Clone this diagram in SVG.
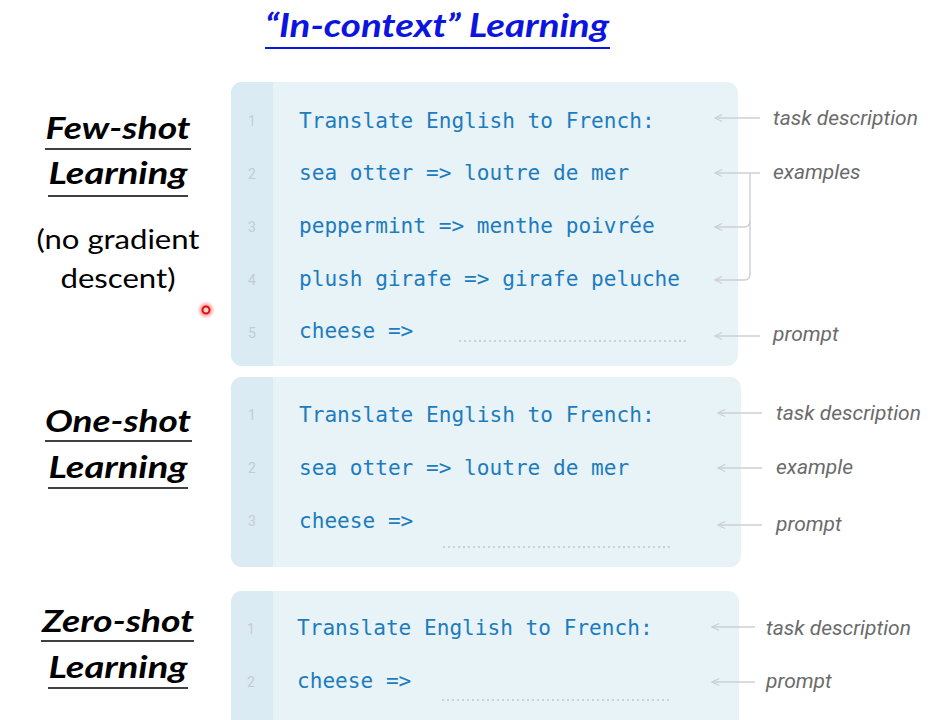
<svg xmlns="http://www.w3.org/2000/svg" width="930" height="720" viewBox="0 0 930 720">
  <defs>
    <style>
      .panel { fill: #e8f3f7; }
      .gutter { fill: #dbebf3; }
      .code { font-family: "DejaVu Sans Mono", "Liberation Mono", monospace; font-size: 21.1px; fill: #1c7cbe; }
      .num { font-family: Roboto, "Liberation Sans", sans-serif; font-size: 14px; fill: #c3ccd1; text-anchor: middle; }
      .dots { stroke: #c9d2d6; stroke-width: 2; stroke-dasharray: 2 3; fill: none; }
      .conn { stroke: #cbd0d3; stroke-width: 1.4; fill: none; }
      .lbl { font-family: Roboto, "Liberation Sans", sans-serif; font-style: italic; font-size: 21px; fill: #6b6b6b; }
      .head { font-family: Lato, "Open Sans", sans-serif; font-weight: bold; font-style: italic; font-size: 31px; fill: #000; text-anchor: middle; }
      .sub { font-family: Lato, "Open Sans", sans-serif; font-size: 26px; fill: #000; text-anchor: middle; }
      .rule { stroke: #000; stroke-width: 1.6; }
      .title { font-family: Lato, "Open Sans", sans-serif; font-weight: bold; font-style: italic; font-size: 32px; fill: #0c14e0; }
    </style>
    <marker id="arr" viewBox="0 0 10 10" refX="9" refY="5" markerWidth="9" markerHeight="9" markerUnits="userSpaceOnUse" orient="auto">
      <path d="M1,1 L9,5 L1,9" fill="none" stroke="#cbd0d3" stroke-width="1.3"/>
    </marker>
    <radialGradient id="glow">
      <stop offset="0" stop-color="#ff2020" stop-opacity="0.8"/>
      <stop offset="1" stop-color="#ff2020" stop-opacity="0"/>
    </radialGradient>
  </defs>

  <rect width="930" height="720" fill="#ffffff"/>

  <!-- heading -->
  <g id="title">
    <text class="title" x="265" y="37" textLength="344" lengthAdjust="spacingAndGlyphs">“In-context” Learning</text>
    <line x1="265" y1="48" x2="610" y2="48" stroke="#0c14e0" stroke-width="2"/>
  </g>

  <!-- left-hand captions -->
  <g id="few-shot-label">
    <text class="head" x="118" y="139" textLength="145" lengthAdjust="spacingAndGlyphs">Few-shot</text>
    <line class="rule" x1="45" y1="149" x2="191" y2="149"/>
    <text class="head" x="118" y="184" textLength="139" lengthAdjust="spacingAndGlyphs">Learning</text>
    <line class="rule" x1="48" y1="196" x2="188" y2="196"/>
    <text class="sub" x="118" y="249" textLength="163" lengthAdjust="spacingAndGlyphs">(no gradient</text>
    <text class="sub" x="118" y="288" textLength="115" lengthAdjust="spacingAndGlyphs">descent)</text>
  </g>
  <g id="one-shot-label">
    <text class="head" x="118" y="432" textLength="146" lengthAdjust="spacingAndGlyphs">One-shot</text>
    <line class="rule" x1="45" y1="441" x2="192" y2="441"/>
    <text class="head" x="118" y="478" textLength="139" lengthAdjust="spacingAndGlyphs">Learning</text>
    <line class="rule" x1="48" y1="488" x2="188" y2="488"/>
  </g>
  <g id="zero-shot-label">
    <text class="head" x="118" y="632" textLength="152" lengthAdjust="spacingAndGlyphs">Zero-shot</text>
    <line class="rule" x1="41" y1="641" x2="194" y2="641"/>
    <text class="head" x="118" y="678" textLength="139" lengthAdjust="spacingAndGlyphs">Learning</text>
    <line class="rule" x1="48" y1="688" x2="188" y2="688"/>
  </g>

  <!-- pointer dot -->
  <g id="pointer">
    <circle cx="206" cy="310" r="9" fill="url(#glow)"/>
    <circle cx="206" cy="310" r="3.5" fill="#ffd0d0" stroke="#e01010" stroke-width="2"/>
  </g>

  <!-- few-shot prompt panel -->
  <g id="few-shot-panel">
    <rect class="panel" x="231" y="82" width="507" height="284" rx="11"/>
    <path class="gutter" d="M242,82 H273 V366 H242 A11,11 0 0 1 231,355 V93 A11,11 0 0 1 242,82 Z"/>
    <text class="num" x="252" y="126">1</text>
    <text class="num" x="252" y="179">2</text>
    <text class="num" x="252" y="232">3</text>
    <text class="num" x="252" y="285">4</text>
    <text class="num" x="252" y="338">5</text>
    <text class="code" x="299" y="128">Translate English to French:</text>
    <text class="code" x="299" y="180">sea otter =&gt; loutre de mer</text>
    <text class="code" x="299" y="233">peppermint =&gt; menthe poivrée</text>
    <text class="code" x="299" y="286">plush girafe =&gt; girafe peluche</text>
    <text class="code" x="299" y="338">cheese =&gt;</text>
    <line class="dots" x1="459" y1="341" x2="688" y2="341"/>
  </g>

  <!-- one-shot prompt panel -->
  <g id="one-shot-panel">
    <rect class="panel" x="231" y="377" width="510" height="190" rx="11"/>
    <path class="gutter" d="M242,377 H273 V567 H242 A11,11 0 0 1 231,556 V388 A11,11 0 0 1 242,377 Z"/>
    <text class="num" x="252" y="420">1</text>
    <text class="num" x="252" y="473">2</text>
    <text class="num" x="252" y="526">3</text>
    <text class="code" x="299" y="422">Translate English to French:</text>
    <text class="code" x="299" y="475">sea otter =&gt; loutre de mer</text>
    <text class="code" x="299" y="528">cheese =&gt;</text>
    <line class="dots" x1="443" y1="547" x2="673" y2="547"/>
  </g>

  <!-- zero-shot prompt panel -->
  <g id="zero-shot-panel">
    <rect class="panel" x="231" y="591" width="508" height="140" rx="11"/>
    <path class="gutter" d="M242,591 H273 V731 H231 V602 A11,11 0 0 1 242,591 Z"/>
    <text class="num" x="251" y="634">1</text>
    <text class="num" x="251" y="687">2</text>
    <text class="code" x="297" y="635">Translate English to French:</text>
    <text class="code" x="297" y="688">cheese =&gt;</text>
    <line class="dots" x1="442" y1="700" x2="670" y2="700"/>
  </g>

  <!-- annotation labels -->
  <g id="annotations">
    <text class="lbl" x="773" y="125">task description</text>
    <text class="lbl" x="773" y="179">examples</text>
    <text class="lbl" x="773" y="341">prompt</text>
    <text class="lbl" x="776" y="420">task description</text>
    <text class="lbl" x="776" y="474">example</text>
    <text class="lbl" x="776" y="531">prompt</text>
    <text class="lbl" x="766" y="635">task description</text>
    <text class="lbl" x="766" y="688">prompt</text>
  </g>

  <!-- connectors -->
  <g id="connectors">
    <line class="conn" x1="760" y1="118" x2="715" y2="118" marker-end="url(#arr)"/>
    <line class="conn" x1="760" y1="173" x2="715" y2="173" marker-end="url(#arr)"/>
    <path class="conn" d="M750,173 V221 Q750,227 744,227 H715" marker-end="url(#arr)"/>
    <path class="conn" d="M750,221 V274 Q750,280 744,280 H715" marker-end="url(#arr)"/>
    <line class="conn" x1="760" y1="336" x2="715" y2="336" marker-end="url(#arr)"/>
    <line class="conn" x1="762" y1="413" x2="718" y2="413" marker-end="url(#arr)"/>
    <line class="conn" x1="762" y1="468" x2="718" y2="468" marker-end="url(#arr)"/>
    <line class="conn" x1="762" y1="525" x2="718" y2="525" marker-end="url(#arr)"/>
    <line class="conn" x1="755" y1="627" x2="712" y2="627" marker-end="url(#arr)"/>
    <line class="conn" x1="755" y1="682" x2="712" y2="682" marker-end="url(#arr)"/>
  </g>
</svg>
